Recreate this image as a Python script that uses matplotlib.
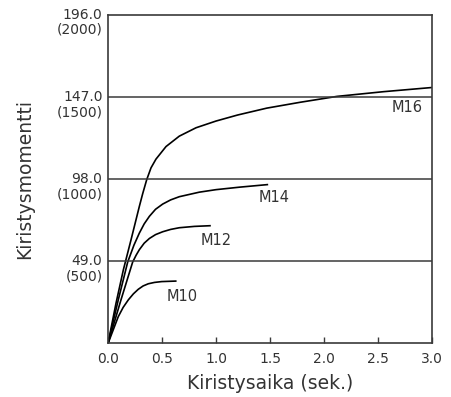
import matplotlib
matplotlib.use("Agg")
import matplotlib.pyplot as plt
import matplotlib.transforms as mtransforms

# tightening time (s) vs torque
m16_t = [0, 0.074, 0.142, 0.213, 0.29, 0.321, 0.358, 0.398, 0.444, 0.537, 0.66, 0.815,
         1.0, 1.2, 1.47, 1.78, 2.12, 2.55, 3.0]
m16_v = [0, 24, 43.9, 61.8, 81.7, 89.3, 97.6, 104.7, 109.9, 117.4, 123.6, 128.6,
         132.6, 136.2, 140.3, 143.8, 147.3, 150.1, 152.6]

m14_t = [0, 0.095, 0.182, 0.24, 0.29, 0.335, 0.383, 0.44, 0.506, 0.58, 0.66, 0.845, 1.0, 1.22, 1.475]
m14_v = [0, 26, 48.5, 58.6, 65.8, 71.3, 75.8, 80.0, 83.1, 85.6, 87.5, 90.2, 91.7, 93.2, 94.7]

m12_t = [0, 0.12, 0.228, 0.26, 0.29, 0.335, 0.383, 0.44, 0.506, 0.58, 0.66, 0.8, 0.944]
m12_v = [0, 26, 48.5, 52.6, 55.9, 59.8, 62.6, 64.9, 66.6, 68.0, 69.0, 69.8, 70.2]

m10_t = [0, 0.095, 0.14, 0.188, 0.235, 0.28, 0.325, 0.373, 0.43, 0.497, 0.627]
m10_v = [0, 16, 21.5, 26, 29.6, 32.3, 34.3, 35.6, 36.4, 36.9, 37.2]

# label name, position (t, torque)
labels = ["M16", "M14", "M12", "M10"]
label_t = [2.766, 1.54, 1.006, 0.688]
label_v = [140.5, 87.1, 61.4, 28.0]

y_ticks = [49.0, 98.0, 147.0, 196.0]
y_ticks_kgf = ["(500)", "(1000)", "(1500)", "(2000)"]
x_ticks = [0.0, 0.5, 1.0, 1.5, 2.0, 2.5, 3.0]

plt.rcParams['font.family'] = ['DejaVu Sans']
dark = '#3a3a3a'
txt = '#333333'

fig = plt.figure(figsize=(4.51, 3.97), dpi=100)
ax = fig.add_axes([0.2395, 0.1348, 0.7185, 0.8282])

for t, v in [(m16_t, m16_v), (m14_t, m14_v), (m12_t, m12_v), (m10_t, m10_v)]:
    ax.plot(t, v, color='black', lw=1.2, solid_joinstyle='round')

for i in range(len(labels)):
    ax.text(label_t[i], label_v[i], labels[i], ha='center', va='center',
            fontsize=10.5, color=txt)

# horizontal grid lines
for yv in y_ticks[:-1]:
    ax.axhline(yv, color=dark, lw=1.1)

ax.set_xlim(0, 3.0)
ax.set_ylim(0, 196)

ax.set_xticks(x_ticks)
ax.set_xticklabels(["%.1f" % x for x in x_ticks], fontsize=10, color=txt)
ax.tick_params(axis='x', direction='in', length=4, width=1, color=dark, pad=6)

ax.set_yticks(y_ticks)
ax.set_yticklabels(["%.1f\n%s" % (a, b) for a, b in zip(y_ticks, y_ticks_kgf)],
                   fontsize=10, color=txt)
ax.tick_params(axis='y', length=0, pad=4)
offset = mtransforms.ScaledTranslation(0, 5.0 / 72, fig.dpi_scale_trans)
for lab in ax.get_yticklabels():
    lab.set_verticalalignment('top')
    lab.set_multialignment('right')
    lab.set_linespacing(1.1)
    lab.set_transform(lab.get_transform() + offset)

for s in ax.spines.values():
    s.set_color(dark)
    s.set_linewidth(1.2)

ax.set_xlabel("Kiristysaika (sek.)", fontsize=13.5, color=txt, labelpad=6)
ax.set_ylabel("Kiristysmomentti", fontsize=13.5, color=txt, labelpad=16)

fig.savefig("out.png", dpi=100)
